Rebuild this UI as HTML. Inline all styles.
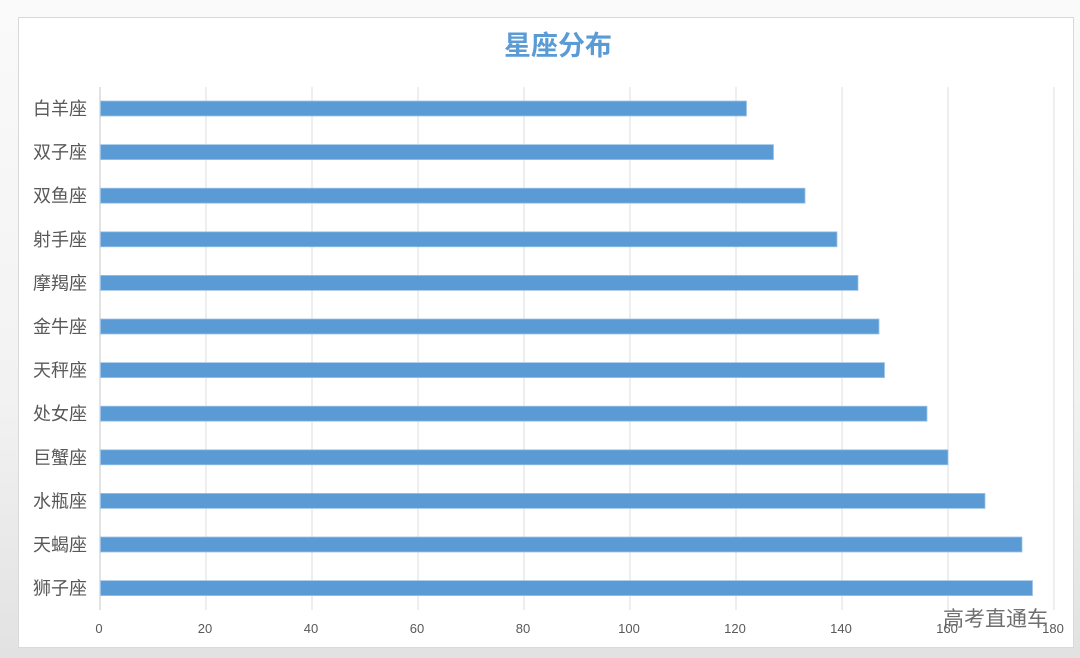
<!DOCTYPE html>
<html><head><meta charset="utf-8"><style>
html,body{margin:0;padding:0;}
body{width:1080px;height:658px;overflow:hidden;background:linear-gradient(180deg,#fafafa 0%,#f2f2f2 60%,#e2e2e2 100%);}
svg{display:block;}
text{font-family:"Liberation Sans","Noto Sans CJK SC",sans-serif;}
</style></head><body>
<svg width="1080" height="658" viewBox="0 0 1080 658" xmlns="http://www.w3.org/2000/svg">
<rect x="18.5" y="17.5" width="1055" height="630" fill="#ffffff" stroke="#d9d9d9" stroke-width="1"/>
<text x="558" y="55" text-anchor="middle" font-size="27" font-weight="bold" fill="#5b9bd5" style="font-family:'Liberation Sans','Noto Sans CJK SC',sans-serif">星座分布</text>
<g stroke="#dedede" stroke-width="1">
<line x1="206" y1="87" x2="206" y2="610"/>
<line x1="312" y1="87" x2="312" y2="610"/>
<line x1="418" y1="87" x2="418" y2="610"/>
<line x1="524" y1="87" x2="524" y2="610"/>
<line x1="630" y1="87" x2="630" y2="610"/>
<line x1="736" y1="87" x2="736" y2="610"/>
<line x1="842" y1="87" x2="842" y2="610"/>
<line x1="948" y1="87" x2="948" y2="610"/>
<line x1="1054" y1="87" x2="1054" y2="610"/>
</g>
<line x1="100" y1="87" x2="100" y2="610" stroke="#d9d9d9" stroke-width="1.5"/>
<g fill="#5b9bd5" stroke="#9dc3e6" stroke-width="0.8">
<rect x="100.5" y="101" width="646" height="15"/>
<rect x="100.5" y="144.6" width="673" height="15"/>
<rect x="100.5" y="188.2" width="704.5" height="15"/>
<rect x="100.5" y="231.8" width="736.5" height="15"/>
<rect x="100.5" y="275.4" width="757.5" height="15"/>
<rect x="100.5" y="319" width="778.5" height="15"/>
<rect x="100.5" y="362.6" width="784" height="15"/>
<rect x="100.5" y="406.2" width="826.5" height="15"/>
<rect x="100.5" y="449.8" width="847.5" height="15"/>
<rect x="100.5" y="493.4" width="884.5" height="15"/>
<rect x="100.5" y="537" width="921.5" height="15"/>
<rect x="100.5" y="580.6" width="932" height="15"/>
</g>
<g font-size="18" fill="#595959" text-anchor="end">
<text x="87" y="115">白羊座</text>
<text x="87" y="158.6">双子座</text>
<text x="87" y="202.2">双鱼座</text>
<text x="87" y="245.8">射手座</text>
<text x="87" y="289.4">摩羯座</text>
<text x="87" y="333">金牛座</text>
<text x="87" y="376.6">天秤座</text>
<text x="87" y="420.2">处女座</text>
<text x="87" y="463.8">巨蟹座</text>
<text x="87" y="507.4">水瓶座</text>
<text x="87" y="551">天蝎座</text>
<text x="87" y="594.6">狮子座</text>
</g>
<g font-size="13" fill="#595959" text-anchor="middle">
<text x="99" y="633">0</text>
<text x="205" y="633">20</text>
<text x="311" y="633">40</text>
<text x="417" y="633">60</text>
<text x="523" y="633">80</text>
<text x="629" y="633">100</text>
<text x="735" y="633">120</text>
<text x="841" y="633">140</text>
<text x="947" y="633">160</text>
<text x="1053" y="633">180</text>
</g>
<text x="943" y="626" font-size="21" fill="#555555" fill-opacity="0.85">高考直通车</text>
</svg>
</body></html>
